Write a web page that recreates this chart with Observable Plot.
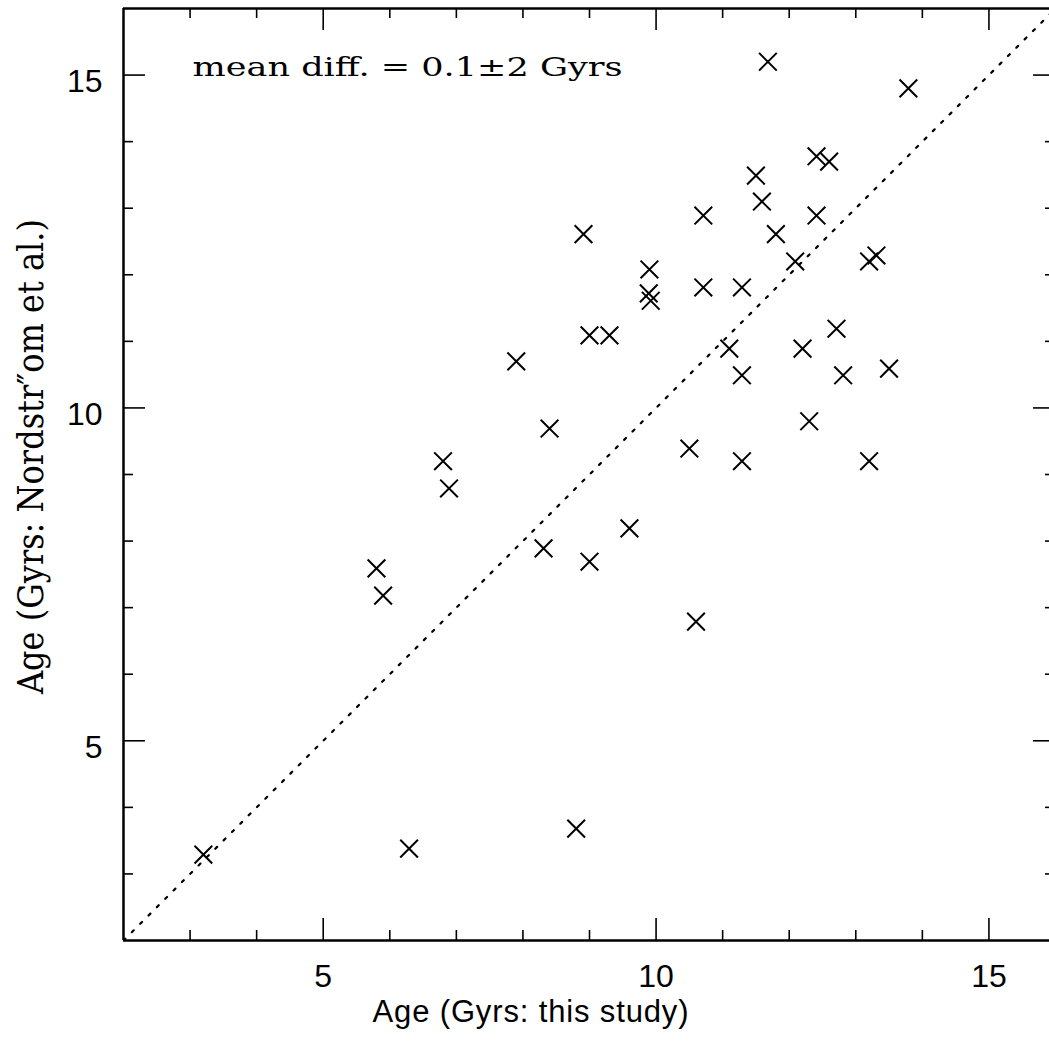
<!DOCTYPE html>
<html>
<head>
<meta charset="utf-8">
<script src="https://cdn.jsdelivr.net/npm/d3@7"></script>
<script src="https://cdn.jsdelivr.net/npm/@observablehq/plot@0.6"></script>
<style>
  html, body { margin: 0; padding: 0; background: #fff; overflow: hidden; }
  #chart svg { display: block; }
</style>
</head>
<body>
<div id="chart"></div>
<script>
// Stellar ages: this study (x) vs. Nordström et al. (y), in Gyr
const ageThisStudy = [
  11.68, 13.79, 11.50, 12.41, 12.60, 11.59, 12.41, 10.71, 8.91, 11.80,
  9.90, 12.09, 13.20, 13.31, 9.89, 9.92, 10.71, 11.29, 9.00, 9.30,
  12.71, 11.10, 12.20, 7.90, 11.29, 12.81, 13.50, 8.40, 12.30, 10.50,
  6.80, 11.29, 13.20, 6.89, 9.60, 8.31, 9.00, 5.80, 5.90, 10.60,
  8.80, 6.29, 3.20
];
const ageNordstrom = [
  15.20, 14.80, 13.49, 13.78, 13.70, 13.10, 12.89, 12.89, 12.61, 12.61,
  12.08, 12.20, 12.20, 12.29, 11.72, 11.61, 11.81, 11.81, 11.09, 11.09,
  11.19, 10.89, 10.89, 10.70, 10.49, 10.49, 10.59, 9.69, 9.80, 9.39,
  9.20, 9.20, 9.20, 8.79, 8.19, 7.89, 7.69, 7.59, 7.18, 6.79,
  3.68, 3.38, 3.29
];

const majorTicks = [5, 10, 15];
const minorTicks = [3, 4, 6, 7, 8, 9, 11, 12, 13, 14];
const diagonal = [2, 16];

const xTitle = "Age (Gyrs: this study)";
const yTitle = "Age (Gyrs: Nordstr\u2033om et al.)";
const note = "mean diff. = 0.1\u00B12 Gyrs";

// layout
const W = 1049, H = 1063;
const mL = 123, mT = 8, mB = 123;
const lo = 2, hi = 16;
const k = (H - mT - mB) / (hi - lo);      // pixels per Gyr (same on both axes)
const xMax = lo + (W - mL) / k;           // right edge runs off the page
const majorLen = 22, minorLen = 10;

const points = ageThisStudy.map((x, i) => ({x, y: ageNordstrom[i]}));
const allTicks = [...minorTicks, ...majorTicks];
const len = d => (majorTicks.includes(d) ? majorLen : minorLen) / k;

const sans = "'Liberation Sans', Arial, Helvetica, sans-serif";
const serif = "'DejaVu Serif', 'Liberation Serif', serif";

const chart = Plot.plot({
  width: W,
  height: H,
  marginLeft: mL,
  marginRight: 0,
  marginTop: mT,
  marginBottom: mB,
  style: {background: "#fff", color: "#000", overflow: "hidden"},
  x: {domain: [lo, xMax], axis: null},
  y: {domain: [lo, hi], axis: null},
  marks: [
    // one-to-one line
    Plot.line(diagonal, {x: d => d, y: d => d, clip: true, stroke: "#000",
      strokeWidth: 2.2, strokeDasharray: "2.6,9.2"}),
    // data
    Plot.dot(points, {x: "x", y: "y", symbol: "times", r: 8.1,
      stroke: "#000", strokeWidth: 2}),
    // frame
    Plot.ruleY([lo, hi], {y: d => d, x1: () => lo, x2: () => xMax, stroke: "#000", strokeWidth: 2.5}),
    Plot.ruleX([lo], {x: d => d, y1: () => lo, y2: () => hi, stroke: "#000", strokeWidth: 2.5}),
    // inward ticks on all four sides
    Plot.ruleX(allTicks, {x: d => d, y1: () => lo, y2: d => lo + len(d), stroke: "#000", strokeWidth: 1.6}),
    Plot.ruleX(allTicks, {x: d => d, y1: d => hi - len(d), y2: () => hi, stroke: "#000", strokeWidth: 1.6}),
    Plot.ruleY(allTicks, {y: d => d, x1: () => lo, x2: d => lo + len(d), stroke: "#000", strokeWidth: 1.6}),
    Plot.ruleY(allTicks, {y: d => d, x1: d => hi - len(d), x2: () => xMax, stroke: "#000", strokeWidth: 1.6}),
    // tick labels
    Plot.text(majorTicks, {x: d => d, y: () => lo, text: d => String(d), dy: 46,
      lineAnchor: "bottom", textAnchor: "middle", fontSize: 32, fontFamily: sans, fill: "#000"}),
    Plot.text(majorTicks, {x: () => lo, y: d => d, text: d => String(d), dx: -21, dy: 17,
      lineAnchor: "bottom", textAnchor: "end", fontSize: 32, fontFamily: sans, fill: "#000"}),
    // axis titles
    Plot.text([xTitle], {frameAnchor: "bottom", text: d => d, dx: -56, dy: 81,
      lineAnchor: "bottom", textAnchor: "middle", fontSize: 31, fontFamily: sans, fill: "#000"}),
    Plot.text([yTitle], {frameAnchor: "left", text: d => d, rotate: -90, dx: -81, dy: -18,
      lineAnchor: "bottom", textAnchor: "middle", fontSize: 35, fontFamily: serif, fill: "#000"}),
    // annotation
    Plot.text([note], {frameAnchor: "top-left", text: d => d, dx: 69, dy: 67,
      lineAnchor: "bottom", textAnchor: "start", fontSize: 26, fontFamily: serif, fill: "#000"})
  ]
});

// fit each label to its drawn length
const lengths = new Map([
  [yTitle, [475, "spacingAndGlyphs"]],
  [note, [430, "spacingAndGlyphs"]],
  [xTitle, [316, "spacing"]]
]);
chart.querySelectorAll("text").forEach(t => {
  const fit = lengths.get(t.textContent);
  if (fit) {
    t.setAttribute("textLength", fit[0]);
    t.setAttribute("lengthAdjust", fit[1]);
  }
});

document.getElementById("chart").appendChild(chart);
</script>
</body>
</html>
